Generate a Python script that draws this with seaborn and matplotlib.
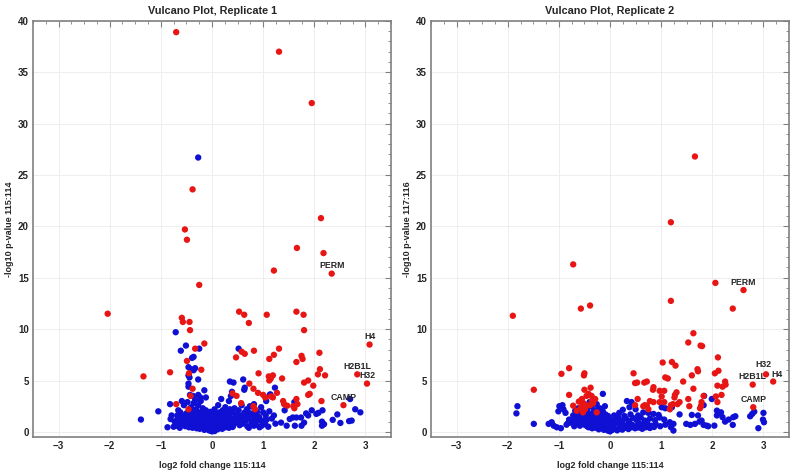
import pandas as pd
import seaborn as sns
import matplotlib.pyplot as plt
from matplotlib.ticker import MultipleLocator

# ---- Replicate 1 (115:114) ----
r1_sig = [(-0.70, 38.9), (1.31, 37.0), (1.95, 32.0), (-0.38, 23.6), (-0.53, 19.7), (-0.49, 18.7),
          (2.13, 20.8), (1.66, 17.9), (2.18, 17.4), (1.21, 15.7), (-0.25, 14.3), (-2.04, 11.5),
          (-0.59, 11.1), (-0.57, 10.7), (-0.44, 10.7), (-0.43, 9.9), (0.53, 11.7), (0.63, 11.4),
          (0.72, 10.6), (1.07, 11.4), (1.65, 11.7), (1.79, 11.4), (1.80, 9.9), (-0.15, 8.6),
          (-0.33, 8.1), (-0.49, 6.9), (-0.45, 5.7), (-0.21, 6.05), (-0.38, 4.2), (-0.42, 3.5),
          (-0.70, 2.7), (-0.46, 2.2), (-1.34, 5.4), (-0.82, 5.8), (0.47, 7.25), (0.58, 7.8),
          (0.64, 7.6), (0.82, 7.9), (0.73, 4.7), (0.81, 4.2), (0.91, 5.7), (0.40, 3.75), (0.48, 3.5),
          (0.90, 3.8), (0.57, 2.8), (1.12, 7.1), (1.21, 7.5), (1.31, 8.1), (1.11, 5.4), (1.12, 5.0),
          (1.15, 5.2), (1.19, 5.5), (1.37, 5.2), (1.65, 6.8), (1.75, 7.4), (1.77, 7.1), (2.10, 7.7),
          (2.11, 6.1), (2.07, 5.6), (2.21, 5.5), (1.80, 4.8), (1.88, 5.0), (1.98, 4.5), (1.91, 3.7),
          (1.88, 3.6), (2.14, 3.0), (1.00, 3.6), (1.04, 3.35), (1.15, 3.45), (1.19, 3.35), (1.39, 3.0),
          (1.41, 2.7), (1.47, 2.55), (1.59, 2.5), (1.61, 2.3), (1.65, 3.2), (1.67, 2.7), (0.81, 2.5),
          (0.84, 2.2), (1.27, 3.8)]

r1_other = [(-0.27, 26.7), (-0.71, 9.7), (-0.51, 8.4), (-0.61, 7.9), (-0.25, 8.1), (-0.39, 7.2),
            (-0.36, 7.3), (-0.46, 6.3), (-0.41, 6.1), (-0.36, 6.0), (-0.33, 6.2), (-0.46, 5.5),
            (-0.44, 5.3), (-0.27, 5.1), (-0.46, 4.7), (-0.46, 4.4), (-0.15, 4.05), (-0.43, 3.6),
            (-0.37, 3.5), (-0.27, 3.6), (-0.23, 3.35), (-0.12, 3.35), (-0.59, 3.0), (-0.82, 2.7),
            (-1.05, 2.0), (-1.39, 1.2), (-0.79, 1.6), (-0.81, 1.25), (-0.87, 0.45), (-0.63, 0.4),
            (0.18, 3.2), (0.35, 4.9), (0.42, 4.8), (0.61, 5.1), (0.52, 8.1), (0.37, 3.5), (0.33, 3.0),
            (0.64, 4.3), (0.63, 4.1), (0.39, 3.9), (1.14, 3.65), (1.23, 4.3), (1.13, 3.6), (1.06, 3.0),
            (1.61, 2.9), (2.70, 3.2), (2.80, 2.2), (2.90, 1.9), (2.73, 1.1), (2.68, 1.05), (2.51, 0.87),
            (2.45, 1.7), (2.36, 1.17), (2.16, 2.1), (2.15, 1.0), (2.15, 0.6), (2.19, 0.75), (2.08, 1.85),
            (2.04, 1.75), (1.95, 2.1), (1.84, 1.8), (1.74, 1.4), (1.65, 1.4), (1.58, 1.4), (1.52, 1.25),
            (1.42, 2.1), (1.46, 0.6), (1.62, 0.6), (1.75, 0.6), (1.88, 1.6), (1.80, 0.9), (1.21, 1.6),
            (1.24, 0.8), (1.35, 0.9),
            # dense core
            (-0.55, 2.6), (-0.48, 2.9), (-0.41, 2.4), (-0.36, 2.8), (-0.31, 2.2), (-0.27, 2.6),
            (-0.22, 3.0), (-0.18, 2.3), (-0.12, 2.1), (-0.33, 3.1), (-0.44, 2.1), (0.05, 2.2),
            (0.12, 2.6), (0.21, 2.1), (0.26, 2.4), (0.31, 2.0), (0.44, 2.3), (0.52, 2.1), (0.58, 2.6),
            (0.68, 2.2), (0.74, 2.5),
            (-0.62, 1.9), (-0.57, 1.6), (-0.50, 1.8), (-0.46, 1.55), (-0.40, 1.95), (-0.35, 1.7),
            (-0.29, 1.85), (-0.24, 1.6), (-0.19, 1.9), (-0.14, 1.75), (-0.08, 1.6), (-0.03, 1.95),
            (0.04, 1.7), (0.10, 1.55), (0.15, 1.9), (0.20, 1.65), (0.27, 1.75), (0.34, 1.6), (0.40, 1.9),
            (0.47, 1.7), (0.55, 1.55), (0.63, 1.85), (0.71, 1.6), (0.79, 1.75), (0.88, 1.95),
            (-0.68, 1.2), (-0.60, 1.4), (-0.54, 1.1), (-0.49, 1.35), (-0.43, 1.05), (-0.38, 1.25),
            (-0.33, 1.45), (-0.28, 1.15), (-0.23, 1.4), (-0.18, 1.05), (-0.13, 1.3), (-0.09, 1.1),
            (-0.05, 1.45), (0.01, 1.2), (0.06, 1.35), (0.11, 1.05), (0.16, 1.4), (0.22, 1.2), (0.27, 1.0),
            (0.32, 1.35), (0.38, 1.15), (0.45, 1.4), (0.51, 1.05), (0.59, 1.3), (0.66, 1.1), (0.74, 1.35),
            (0.83, 1.2), (0.92, 1.45), (1.00, 1.1),
            (-0.70, 0.6), (-0.58, 0.85), (-0.52, 0.55), (-0.47, 0.75), (-0.41, 0.95), (-0.36, 0.6),
            (-0.31, 0.8), (-0.26, 0.55), (-0.21, 0.9), (-0.17, 0.7), (-0.12, 0.95), (-0.08, 0.6),
            (-0.04, 0.8), (0.02, 0.65), (0.06, 0.9), (0.10, 0.55), (0.14, 0.75), (0.19, 0.95), (0.24, 0.6),
            (0.29, 0.85), (0.35, 0.7), (0.41, 0.55), (0.47, 0.9), (0.54, 0.65), (0.60, 0.8), (0.69, 0.55),
            (0.77, 0.9), (0.86, 0.7),
            (-0.45, 0.45), (-0.38, 0.4), (-0.30, 0.35), (-0.24, 0.3), (-0.19, 0.45), (-0.15, 0.2),
            (-0.10, 0.35), (-0.06, 0.15), (-0.03, 0.3), (0.00, 0.05), (0.03, 0.2), (0.07, 0.4),
            (0.11, 0.25), (0.15, 0.45), (0.20, 0.3), (0.26, 0.45), (0.33, 0.4), (0.40, 0.48),
            (-0.02, 0.1), (0.05, 0.08),
            (-0.34, 2.0), (-0.30, 1.55), (-0.25, 1.3), (-0.20, 2.0), (-0.16, 1.5), (-0.38, 1.6),
            (-0.42, 1.3), (-0.27, 0.95), (-0.22, 0.75), (-0.32, 1.05), (0.12, 1.2), (0.18, 0.85),
            (0.25, 1.55), (0.30, 1.2), (0.36, 0.95), (0.42, 1.25), (0.48, 1.05), (0.08, 1.8), (0.35, 2.2),
            (0.82, 2.7), (0.83, 2.2), (0.84, 1.6), (0.86, 1.1), (0.82, 0.6), (0.96, 2.4), (1.00, 1.9),
            (1.05, 1.6), (1.07, 1.2), (0.95, 1.1), (0.97, 0.6), (1.04, 0.75), (0.93, 0.45), (1.12, 2.0),
            (1.17, 1.3), (1.10, 0.5), (0.72, 0.4), (0.65, 1.4), (0.70, 2.0), (-0.66, 2.1), (-0.73, 1.0),
            (-0.62, 0.95), (-0.68, 1.6), (-0.75, 0.5)]

r1_genes = ["PERM", "H4", "H2B1L", "H32", "CAMP"]
r1_gene_x = [2.34, 3.08, 2.84, 3.03, 2.57]
r1_gene_y = [15.4, 8.5, 5.6, 4.7, 2.6]
r1_label_off = [(0, 2.5), (0, 2.5), (0, 2.5), (0, 2.5), (0, 2.5)]

# ---- Replicate 2 (117:116) ----
r2_sig = [(1.66, 26.8), (1.19, 20.4), (-0.72, 16.3), (2.06, 14.5), (1.19, 12.75), (2.40, 12.0),
          (-1.90, 11.3), (-0.57, 12.0), (-0.39, 12.3), (1.63, 9.6), (1.53, 8.7), (1.77, 8.4),
          (1.80, 8.35), (2.11, 7.25), (1.21, 6.8), (1.28, 6.45), (1.71, 6.1), (1.72, 5.9), (2.12, 5.95),
          (2.05, 5.7), (1.60, 5.5), (2.25, 4.9), (1.43, 4.9), (1.08, 5.3), (1.13, 5.2), (1.03, 6.75),
          (0.46, 5.7), (0.49, 4.75), (0.53, 4.8), (0.67, 4.8), (0.72, 4.9), (0.85, 4.35), (0.84, 4.1),
          (0.97, 4.0), (1.06, 4.0), (1.30, 3.85), (1.27, 3.6), (1.26, 3.35), (1.01, 3.45), (1.06, 2.9),
          (0.97, 2.9), (0.78, 3.0), (0.85, 2.9), (0.65, 2.5), (0.72, 2.55), (0.75, 2.2), (1.19, 2.6),
          (1.23, 2.7), (1.17, 2.2), (1.32, 2.7), (1.36, 2.9), (1.53, 3.2), (1.55, 2.5), (1.79, 2.9),
          (1.78, 2.55), (1.76, 2.3), (1.83, 3.5), (2.10, 4.5), (2.26, 4.6), (2.07, 3.45), (2.18, 3.6),
          (2.10, 2.9), (2.20, 4.4), (1.63, 4.2), (0.54, 3.2), (0.49, 2.6), (0.68, 2.6),
          (-1.49, 4.1), (-0.95, 5.65), (-0.80, 6.2), (-0.50, 5.7), (-0.51, 5.5), (-0.80, 3.6),
          (-0.50, 4.1), (-0.38, 4.3), (-0.61, 2.95), (-0.55, 3.2), (-0.52, 2.8), (-0.46, 3.5),
          (-0.42, 3.7), (-0.36, 3.5), (-0.29, 3.2), (-0.33, 2.8), (-0.39, 2.6), (-0.57, 2.4),
          (-0.49, 2.2), (-0.65, 2.05), (-0.53, 1.9), (-0.26, 1.9), (-0.72, 2.55), (-0.45, 2.55),
          (-0.35, 3.05)]

r2_other = [(-0.14, 3.7), (-0.99, 2.5), (-0.93, 2.6), (-1.01, 2.0), (-0.91, 2.2), (-0.87, 1.85),
            (-1.81, 2.5), (-1.83, 1.8), (-1.49, 0.78), (-1.20, 0.78), (-1.14, 0.94), (-1.10, 0.6),
            (-1.04, 0.45), (-0.96, 0.36), (-0.82, 0.87), (-0.23, 2.2), (0.33, 3.0), (0.42, 2.9),
            (0.75, 1.85), (0.85, 1.75), (0.95, 1.65), (1.36, 1.7), (1.49, 0.78), (1.57, 0.68),
            (1.66, 0.78), (1.72, 1.6), (1.84, 3.5), (1.99, 3.2), (1.83, 2.6), (1.75, 1.0), (1.83, 0.68),
            (1.89, 0.61), (2.04, 0.61), (2.09, 2.07), (2.17, 1.9), (2.20, 1.43), (2.09, 1.6), (2.25, 1.0),
            (2.32, 1.2), (2.41, 1.43), (2.45, 1.52), (2.40, 0.68), (2.74, 1.52), (2.78, 1.75),
            (2.82, 1.97), (2.90, 0.36), (3.00, 1.85), (2.99, 1.2), (3.01, 0.94), (1.60, 1.65),
            (1.79, 1.1), (1.24, 0.78), (1.24, 0.13), (1.19, 0.46), (1.17, 0.94), (1.01, 2.4),
            (1.08, 2.3), (1.21, 2.4), (1.92, 0.55),
            # dense core
            (-0.62, 2.3), (-0.55, 2.05), (-0.50, 2.6), (-0.45, 2.2), (-0.40, 2.9), (-0.36, 2.45),
            (-0.30, 2.1), (-0.26, 2.7), (-0.20, 2.3), (-0.15, 2.05), (-0.10, 2.5), (0.25, 2.15),
            (0.38, 2.4), (0.50, 2.2), (-0.68, 2.05),
            (-0.72, 1.6), (-0.66, 1.85), (-0.60, 1.55), (-0.56, 1.75), (-0.51, 1.95), (-0.47, 1.6),
            (-0.42, 1.8), (-0.38, 1.55), (-0.33, 1.9), (-0.29, 1.65), (-0.24, 1.8), (-0.19, 1.55),
            (-0.14, 1.95), (-0.09, 1.7), (-0.04, 1.55), (0.08, 1.6), (0.18, 1.85), (0.28, 1.55),
            (0.40, 1.7), (0.55, 1.6), (0.65, 1.9),
            (-0.80, 1.2), (-0.74, 1.05), (-0.69, 1.4), (-0.63, 1.15), (-0.58, 1.35), (-0.53, 1.05),
            (-0.48, 1.25), (-0.44, 1.45), (-0.39, 1.1), (-0.35, 1.3), (-0.30, 1.05), (-0.26, 1.4),
            (-0.21, 1.2), (-0.17, 1.0), (-0.12, 1.35), (-0.07, 1.1), (-0.02, 1.3), (0.04, 1.05),
            (0.10, 1.25), (0.16, 1.4), (0.23, 1.1), (0.31, 1.3), (0.37, 1.05), (0.45, 1.35), (0.52, 1.15),
            (0.60, 1.4), (0.68, 1.1), (0.78, 1.3), (0.88, 1.15), (0.97, 1.4), (1.06, 1.2),
            (-0.85, 0.7), (-0.77, 0.9), (-0.70, 0.55), (-0.64, 0.8), (-0.59, 0.6), (-0.54, 0.95),
            (-0.50, 0.7), (-0.45, 0.55), (-0.41, 0.85), (-0.37, 0.65), (-0.32, 0.95), (-0.28, 0.75),
            (-0.23, 0.55), (-0.19, 0.85), (-0.15, 0.65), (-0.11, 0.9), (-0.06, 0.6), (-0.02, 0.8),
            (0.03, 0.55), (0.08, 0.75), (0.13, 0.95), (0.19, 0.6), (0.25, 0.8), (0.31, 0.55), (0.37, 0.9),
            (0.43, 0.7), (0.50, 0.55), (0.57, 0.85), (0.64, 0.65), (0.72, 0.9), (0.80, 0.6), (0.89, 0.8),
            (0.98, 0.55), (1.08, 0.7),
            (-0.42, 0.45), (-0.35, 0.35), (-0.28, 0.4), (-0.22, 0.25), (-0.17, 0.4), (-0.12, 0.2),
            (-0.08, 0.35), (-0.04, 0.12), (0.00, 0.05), (0.04, 0.18), (0.09, 0.3), (0.14, 0.15),
            (0.19, 0.35), (0.24, 0.22), (0.30, 0.4), (0.36, 0.28), (0.42, 0.45), (0.49, 0.35),
            (0.56, 0.42), (0.63, 0.3), (0.70, 0.45), (0.78, 0.38), (0.86, 0.48),
            (-0.52, 1.45), (-0.46, 1.9), (-0.40, 1.35), (-0.34, 1.6), (-0.28, 1.25), (-0.22, 1.5),
            (-0.33, 0.5), (-0.25, 1.0), (-0.43, 0.95), (-0.18, 1.8)]

r2_genes = ["PERM", "H32", "H4", "H2B1L", "CAMP"]
r2_gene_x = [2.61, 3.05, 3.19, 2.79, 2.80]
r2_gene_y = [13.8, 5.6, 4.9, 4.6, 2.4]
r2_label_off = [(0, 2.5), (-1.5, 4), (3, 1.5), (0, 2.5), (0, 2.5)]

RED = "#e81515"
BLUE = "#1010d4"


def build(sig, other, gx, gy):
    rows = [(x, y, "no") for x, y in other]
    rows += [(x, y, "yes") for x, y in sig]
    rows += [(x, y, "yes") for x, y in zip(gx, gy)]
    return pd.DataFrame(rows, columns=["fc", "p", "sig"])


sns.set_theme(style="white")
plt.rcParams["font.family"] = ["Liberation Sans", "DejaVu Sans"]

fig = plt.figure(figsize=(7.93, 4.74), dpi=100)
ax1 = fig.add_axes([0.0416, 0.078, 0.4515, 0.878])
ax2 = fig.add_axes([0.5435, 0.078, 0.4515, 0.878])

panels = [
    (ax1, build(r1_sig, r1_other, r1_gene_x, r1_gene_y), r1_genes, r1_gene_x, r1_gene_y,
     r1_label_off, "Vulcano Plot, Replicate 1", "-log10 p-value 115:114"),
    (ax2, build(r2_sig, r2_other, r2_gene_x, r2_gene_y), r2_genes, r2_gene_x, r2_gene_y,
     r2_label_off, "Vulcano Plot, Replicate 2", "-log10 p-value 117:116"),
]

for ax, df, genes, gx, gy, offs, title, ylab in panels:
    sns.scatterplot(data=df, x="fc", y="p", hue="sig", palette={"no": BLUE, "yes": RED},
                    s=21, linewidth=0, legend=False, ax=ax, zorder=3)
    for g, x, y, off in zip(genes, gx, gy, offs):
        ax.annotate(g, (x, y), xytext=off, textcoords="offset points",
                    ha="center", va="bottom", fontsize=6.3, fontweight="bold", zorder=4)

    ax.set_xlim(-3.5, 3.5)
    ax.set_ylim(-0.5, 40)
    ax.set_xticks(range(-3, 4))
    ax.set_yticks(range(0, 41, 5))
    ax.xaxis.set_minor_locator(MultipleLocator(0.25))
    ax.yaxis.set_minor_locator(MultipleLocator(1))
    ax.grid(True, which="major", color="#ebebeb", linewidth=0.6, zorder=0)
    ax.set_axisbelow(True)
    for sp in ax.spines.values():
        sp.set_color("#808080")
        sp.set_linewidth(1.2)
    ax.tick_params(which="both", direction="in", top=True, right=True, color="#808080",
                   labelsize=7, pad=3)
    ax.tick_params(which="major", length=4, width=0.8)
    ax.tick_params(which="minor", length=2, width=0.6)
    for lbl in ax.get_xticklabels() + ax.get_yticklabels():
        lbl.set_fontweight("bold")

    ax.set_title(title, fontsize=7.8, fontweight="bold", pad=5)
    ax.set_xlabel("log2 fold change 115:114", fontsize=6.5, fontweight="bold", labelpad=7)
    ax.set_ylabel(ylab, fontsize=6.5, fontweight="bold", labelpad=3)

fig.savefig("out.png", dpi=100)
